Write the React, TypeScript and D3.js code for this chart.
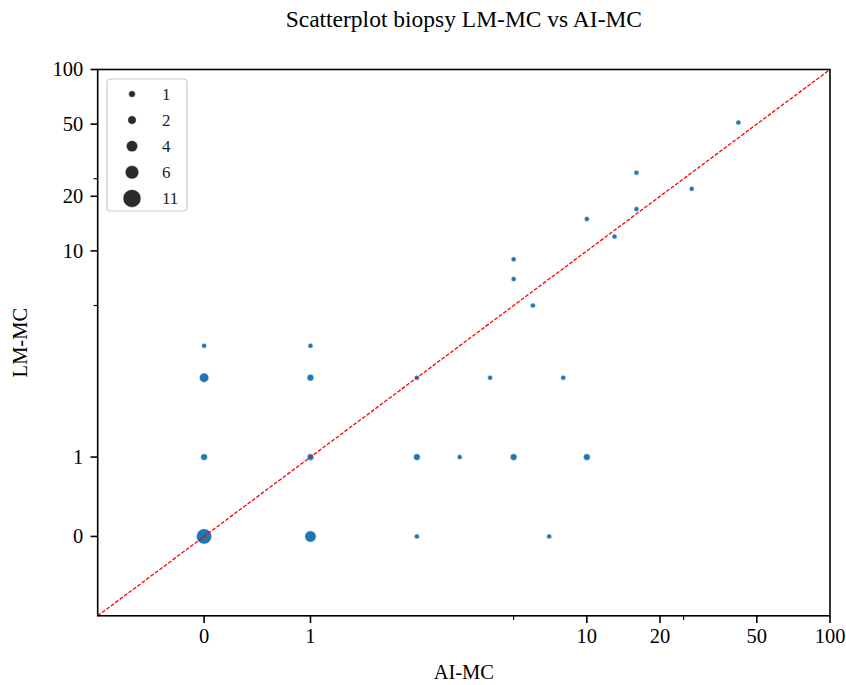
import React from 'react';
import * as d3 from 'd3';

// ---- data ----
const aiMC = [0, 1, 2, 7, 0, 1, 2, 3, 5, 10, 0, 1, 2, 4, 8, 0, 1, 6, 5, 5, 13, 10, 16, 27, 16, 42];
const lmMC = [0, 0, 0, 0, 1, 1, 1, 1, 1, 1, 2, 2, 2, 2, 2, 3, 3, 5, 7, 9, 12, 15, 17, 22, 27, 51];
const counts = [11, 6, 1, 1, 2, 2, 2, 1, 2, 2, 4, 2, 1, 1, 1, 1, 1, 1, 1, 1, 1, 1, 1, 1, 1, 1];
const majorTicks = [0, 1, 10, 20, 50, 100];
const minorTicks = [5, 25];
const legendSizes = [1, 2, 4, 6, 11];
const axisDomain = [-1, 100];
const titleText = 'Scatterplot biopsy LM-MC vs AI-MC';
const xLabelText = 'AI-MC';
const yLabelText = 'LM-MC';

// symmetric-log transform (linear below threshold, log10 above)
const LINTHRESH = 2;
const LINC = 0.875;
function symT(v: number): number {
  const a = Math.abs(v);
  if (a <= LINTHRESH) return (v * LINC) / LINTHRESH;
  return Math.sign(v) * (LINC + Math.log10(a / LINTHRESH));
}

const W = 846;
const H = 685;
const left = 97.7;
const right = 830;
const top = 69.5;
const bottom = 615.8;
const FONT = '"Liberation Serif", "Times New Roman", serif';

export default function App() {
  const xs = d3.scaleLinear().domain(axisDomain.map(symT)).range([left, right]);
  const ys = d3.scaleLinear().domain(axisDomain.map(symT)).range([bottom, top]);
  const x = (v: number) => xs(symT(v));
  const y = (v: number) => ys(symT(v));

  const area = d3.scaleLinear().domain([1, 11]).range([25, 236]);
  const legendArea = d3.scaleLinear().domain([1, 11]).range([45, 324]);

  const pts = aiMC.map((a, i) => ({ a, l: lmMC[i], c: counts[i] }));
  const diag = d3.line<number>().x((v) => x(v)).y((v) => y(v));

  const tickCol = '#000';
  return (
    <svg width={W} height={H} style={{ position: 'absolute', left: 0, top: 0, background: '#fff' }} fontFamily={FONT}>
      <rect x={0} y={0} width={W} height={H} fill="#fff" />
      <defs>
        <clipPath id="plotclip">
          <rect x={left} y={top} width={right - left} height={bottom - top} />
        </clipPath>
      </defs>
      {/* title */}
      <text x={(left + right) / 2} y={27} textAnchor="middle" fontSize={23.5} fill="#000">
        {titleText}
      </text>

      {/* points */}
      <g clipPath="url(#plotclip)">
        {pts.map((p, i) => (
          <circle
            key={i}
            cx={x(p.a)}
            cy={y(p.l)}
            r={Math.sqrt(area(p.c)) / 2}
            fill="#1f77b4"
            stroke="#fff"
            strokeWidth={0.5}
          />
        ))}
        <path
          d={diag(axisDomain) || ''}
          stroke="#ff0000"
          strokeWidth={1.3}
          strokeDasharray="3.8 1.7"
          fill="none"
        />
      </g>

      {/* spines */}
      <rect x={left} y={top} width={right - left} height={bottom - top} fill="none" stroke="#000" strokeWidth={1.6} />

      {/* x ticks */}
      {majorTicks.map((t) => (
        <g key={'xt' + t}>
          <line x1={x(t)} x2={x(t)} y1={bottom} y2={bottom + 7.2} stroke={tickCol} strokeWidth={1.6} />
          <text x={x(t)} y={643} textAnchor="middle" fontSize={20.5} fill="#000">
            {t}
          </text>
        </g>
      ))}
      {minorTicks.map((t) => (
        <line key={'xm' + t} x1={x(t)} x2={x(t)} y1={bottom} y2={bottom + 4.1} stroke={tickCol} strokeWidth={1.2} />
      ))}

      {/* y ticks */}
      {majorTicks.map((t) => (
        <g key={'yt' + t}>
          <line x1={left - 7.2} x2={left} y1={y(t)} y2={y(t)} stroke={tickCol} strokeWidth={1.6} />
          <text x={left - 14.4} y={y(t)} dy="0.33em" textAnchor="end" fontSize={20.5} fill="#000">
            {t}
          </text>
        </g>
      ))}
      {minorTicks.map((t) => (
        <line key={'ym' + t} x1={left - 4.1} x2={left} y1={y(t)} y2={y(t)} stroke={tickCol} strokeWidth={1.2} />
      ))}

      {/* axis labels */}
      <text x={(left + right) / 2} y={679} textAnchor="middle" fontSize={20.5} fill="#000">
        {xLabelText}
      </text>
      <text
        transform={`translate(27.3, ${(top + bottom) / 2}) rotate(-90)`}
        textAnchor="middle"
        fontSize={20.5}
        fill="#000"
      >
        {yLabelText}
      </text>

      {/* legend */}
      <rect x={107} y={79} width={80} height={132} rx={3.5} ry={3.5} fill="#fff" fillOpacity={0.8} stroke="#cccccc" strokeWidth={1.2} />
      {legendSizes.map((s, i) => {
        const cy = 94 + i * 26.1;
        return (
          <g key={'lg' + s}>
            <circle cx={132} cy={cy} r={Math.sqrt(legendArea(s)) / 2} fill="#2b2b2b" stroke="#fff" strokeWidth={0.5} />
            <text x={162} y={cy} dy="0.35em" fontSize={17} fill="#222">
              {s}
            </text>
          </g>
        );
      })}
    </svg>
  );
}
